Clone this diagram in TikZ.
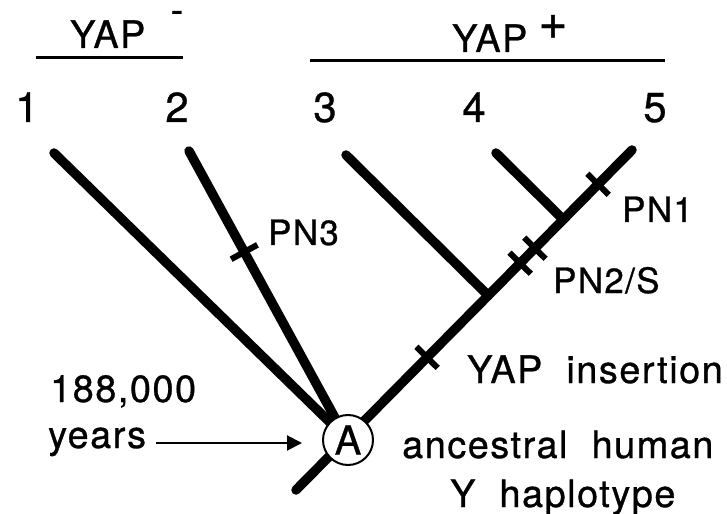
\documentclass[tikz,border=0pt]{standalone}
\usepackage{fontspec}
\setmainfont[LetterSpace=4,FakeBold=0.8]{TeX Gyre Heros}
\usetikzlibrary{calc,arrows.meta}

\begin{document}
\begin{tikzpicture}[x=1bp,y=-1bp,
  branch/.style={line width=9.5bp, line cap=round},
  tickmark/.style={line width=6bp},
  rule/.style={line width=3bp},
  lbl/.style={inner sep=0pt, font=\fontsize{38}{40}\selectfont},
  pnlbl/.style={inner sep=0pt, font=\fontsize{35}{38}\selectfont},
  num/.style={inner sep=0pt, font=\fontsize{42}{44}\selectfont},
  pointer/.style={line width=2bp, -{Triangle[length=15bp,width=15bp]}}
]
\useasboundingbox (0,0) rectangle (727,514);

% group headings
\node[lbl, anchor=base west] (yapm) at (70,48) {YAP};
\node[lbl, anchor=center] (minus) at (177,17) {-};
\draw[rule] (36,58) coordinate (lm1) -- (183,58) coordinate (lm2);
\node[lbl, anchor=base west] (yapp) at (452,52) {YAP};
\node[inner sep=0pt, font=\fontsize{50}{50}\selectfont, anchor=center] (plus) at (553,27) {+};
\draw[rule] (310,61) coordinate (lp1) -- (665,61) coordinate (lp2);

% haplotype numbers
\node[num, anchor=base] (n1) at (27,122) {1};
\node[num, anchor=base] (n2) at (177,122) {2};
\node[num, anchor=base] (n3) at (325,122) {3};
\node[num, anchor=base] (n4) at (474,122) {4};
\node[num, anchor=base] (n5) at (655,122) {5};

% branch end points
\coordinate (b1) at (54,153);
\coordinate (b2) at (189,151);
\coordinate (b3) at (346,155);
\coordinate (b4) at (496,153);
\coordinate (t5) at (632,150);
\coordinate (r) at (296,490);
\coordinate (c) at (346,438);
\coordinate (j3) at ($(r)!(b3)!(t5)$);
\coordinate (j4) at ($(r)!(b4)!(t5)$);

% tree
\draw[branch] (b1) -- (c);
\draw[branch] (b2) -- (c);
\draw[branch] (r) -- (t5);
\draw[branch] (b3) -- (j3);
\draw[branch] (b4) -- (j4);

% mutation marks
\coordinate (k0) at ($(b2)!0.352!(c)$);
\coordinate (k1) at ($(r)!0.39!(t5)$);
\coordinate (k2) at ($(r)!0.667!(t5)$);
\coordinate (k3) at ($(r)!0.711!(t5)$);
\coordinate (k4) at ($(r)!0.899!(t5)$);
\draw[tickmark] ($(k0)!15bp!90:(c)$) -- ($(k0)!15bp!-90:(c)$);
\foreach \k in {k1,k2,k3,k4}
  \draw[tickmark] ($(\k)!15bp!90:(t5)$) -- ($(\k)!15bp!-90:(t5)$);

% ancestral node
\node[circle, draw, line width=2bp, fill=white, minimum size=50bp, inner sep=0pt,
      font=\fontsize{40}{40}\selectfont] (anc) at (348,440) {A};

% labels
\node[pnlbl, anchor=base west] (pn3) at (268,245) {PN3};
\node[pnlbl, anchor=base west] (pn1) at (622,222) {PN1};
\node[pnlbl, anchor=base west] (pn2) at (553,293) {PN2/S};
\node[lbl, anchor=base west] (ins) at (467,383) {YAP\ \ insertion};
\node[lbl, anchor=base west] (age) at (50,402) {188,000};
\node[lbl, anchor=base west] (yrs) at (48,448) {years};
\node[lbl, anchor=base west] (anc1) at (402,458) {ancestral\ \ human};
\node[lbl, anchor=base west] (anc2) at (450,507) {Y\ \ haplotype};

% age pointer
\coordinate (ps) at ($(yrs.base east)+(10,-5)$);
\draw[pointer, shorten >=20bp] (ps) -- (ps -| anc.west);
\end{tikzpicture}
\end{document}
